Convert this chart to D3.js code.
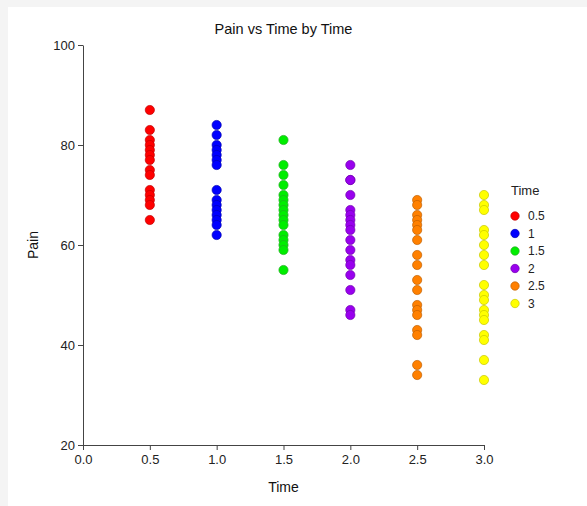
<!DOCTYPE html>
<html>
<head>
<meta charset="utf-8">
<script src="https://cdn.jsdelivr.net/npm/d3@7"></script>
<style>
  body { margin: 0; background: #f4f4f4; }
  svg { display: block; }
</style>
</head>
<body>
<script>
// data
const groups = [0.5, 1, 1.5, 2, 2.5, 3];
const groupLabels = ["0.5", "1", "1.5", "2", "2.5", "3"];
const groupColors = ["#ff0000", "#0000ff", "#00ee00", "#9900ee", "#ff8000", "#ffff00"];
const strokeColors = ["#c00000", "#0000b0", "#22aa22", "#7000b0", "#c06000", "#c8c800"];

const pain05 = [87, 83, 81, 80, 79, 78, 77, 75, 74, 71, 70, 69, 68, 65];
const pain10 = [84, 82, 80, 79, 78, 77, 76, 71, 69, 68, 67, 66, 65, 64, 62];
const pain15 = [81, 76, 74, 72, 70, 69, 68, 67, 66, 65, 64, 62, 61, 60, 59, 55];
const pain20 = [76, 73, 73, 70, 67, 66, 65, 64, 63, 61, 59, 57, 56, 54, 51, 47, 46];
const pain25 = [69, 68, 66, 65, 64, 63, 61, 58, 56, 53, 51, 48, 47, 46, 43, 42, 36, 34];
const pain30 = [70, 68, 67, 63, 62, 60, 58, 56, 52, 50, 49, 47, 46, 45, 42, 41, 37, 33];
const painByGroup = [pain05, pain10, pain15, pain20, pain25, pain30];

const xTicks = [0, 0.5, 1, 1.5, 2, 2.5, 3];
const yTicks = [20, 40, 60, 80, 100];

//Variables
const width = 587;
const height = 506;
const font = "'Liberation Sans', Arial, sans-serif";

const svg = d3.select("body")
  .append("svg")
  .attr("width", width)
  .attr("height", height);

// white panel
svg.append("rect")
  .attr("x", 8).attr("y", 7)
  .attr("width", width - 8).attr("height", height - 7)
  .attr("fill", "white");

const x = d3.scaleLinear().domain([0, 3]).range([83, 484]);
const y = d3.scaleLinear().domain([20, 100]).range([445, 45]);

// axes
const xAxis = svg.append("g")
  .attr("transform", `translate(0,${y(20)})`)
  .call(d3.axisBottom(x).tickValues(xTicks).tickFormat(d3.format(".1f")).tickSize(5).tickSizeOuter(0));
const yAxis = svg.append("g")
  .attr("transform", `translate(${x(0)},0)`)
  .call(d3.axisLeft(y).tickValues(yTicks).tickSize(5).tickSizeOuter(0));

[xAxis, yAxis].forEach(a => {
  a.select(".domain").attr("stroke", "#444");
  a.selectAll(".tick line").attr("stroke", "#444");
  a.selectAll(".tick text")
    .attr("fill", "#222")
    .style("font-family", font)
    .style("font-size", "13px");
});
xAxis.selectAll(".tick text").attr("dy", "0.85em");
yAxis.selectAll(".tick text").attr("x", -8);

// points
painByGroup.forEach((vals, i) => {
  svg.append("g")
    .selectAll("circle")
    .data(vals)
    .enter()
    .append("circle")
    .attr("cx", x(groups[i]))
    .attr("cy", d => y(d))
    .attr("r", 4.6)
    .attr("fill", groupColors[i])
    .attr("stroke", strokeColors[i])
    .attr("stroke-width", 0.7);
});

// titles
svg.append("text")
  .attr("x", (x(0) + x(3)) / 2).attr("y", 34)
  .attr("text-anchor", "middle")
  .style("font-family", font).style("font-size", "14.5px")
  .attr("fill", "#111")
  .text("Pain vs Time by Time");

svg.append("text")
  .attr("x", (x(0) + x(3)) / 2).attr("y", 492)
  .attr("text-anchor", "middle")
  .style("font-family", font).style("font-size", "14px")
  .attr("fill", "#111")
  .text("Time");

svg.append("text")
  .attr("transform", `translate(38,${y(60)}) rotate(-90)`)
  .attr("text-anchor", "middle")
  .style("font-family", font).style("font-size", "14px")
  .attr("fill", "#111")
  .text("Pain");

// legend
const legend = svg.append("g");
legend.append("text")
  .attr("x", 511).attr("y", 195)
  .style("font-family", font).style("font-size", "13px")
  .attr("fill", "#222")
  .text("Time");

const item = legend.selectAll("g.item")
  .data(groupLabels)
  .enter()
  .append("g")
  .attr("class", "item")
  .attr("transform", (d, i) => `translate(0,${216 + i * 17.5})`);

item.append("circle")
  .attr("cx", 515).attr("cy", 0).attr("r", 4.2)
  .attr("fill", (d, i) => groupColors[i])
  .attr("stroke", (d, i) => strokeColors[i])
  .attr("stroke-width", 0.7);

item.append("text")
  .attr("x", 528).attr("y", 4)
  .style("font-family", font).style("font-size", "12px")
  .attr("fill", "#222")
  .text(d => d);
</script>
</body>
</html>
